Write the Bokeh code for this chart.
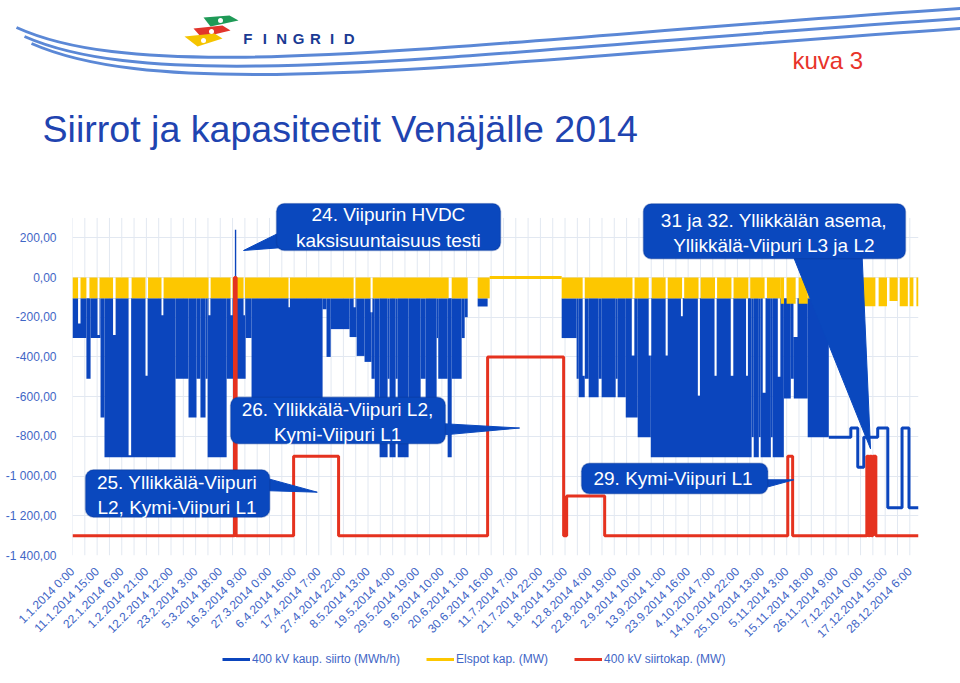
import math
from bokeh.plotting import figure
from bokeh.models import (Range1d, FixedTicker, BoxAnnotation, Label, Legend, LegendItem)
from bokeh.embed import file_html
from bokeh.resources import INLINE
from bokeh.core.properties import value

FONT = "Liberation Sans"
BLUE = "#0b45bd"
YELLOW = "#fdc700"
RED = "#e5321f"
TXT = "#3f66c6"
GRID = "#e2e8f1"
CALLOUT = "#0a48be"
CALLOUT_EDGE = "#0a3592"

# ---------------- data (x in days of 2014, y in MW) ----------------
x_tick_labels = [
    "1.1.2014 0:00", "11.1.2014 15:00", "22.1.2014 6:00", "1.2.2014 21:00",
    "12.2.2014 12:00", "23.2.2014 3:00", "5.3.2014 18:00", "16.3.2014 9:00",
    "27.3.2014 0:00", "6.4.2014 16:00", "17.4.2014 7:00", "27.4.2014 22:00",
    "8.5.2014 13:00", "19.5.2014 4:00", "29.5.2014 19:00", "9.6.2014 10:00",
    "20.6.2014 1:00", "30.6.2014 16:00", "11.7.2014 7:00", "21.7.2014 22:00",
    "1.8.2014 13:00", "12.8.2014 4:00", "22.8.2014 19:00", "2.9.2014 10:00",
    "13.9.2014 1:00", "23.9.2014 16:00", "4.10.2014 7:00", "14.10.2014 22:00",
    "25.10.2014 13:00", "5.11.2014 3:00", "15.11.2014 18:00", "26.11.2014 9:00",
    "7.12.2014 0:00", "17.12.2014 15:00", "28.12.2014 6:00",
]
tick_step_days = 10.625  # 255 hours
y_ticks = [200, 0, -200, -400, -600, -800, -1000, -1200, -1400]
y_tick_labels = ["200,00", "0,00", "-200,00", "-400,00", "-600,00", "-800,00",
                 "-1 000,00", "-1 200,00", "-1 400,00"]

# 400 kV commercial transfer (MWh/h): bands of hourly values
flow_top_mw = -105
blue_start = [0, 6.0, 7.8, 12.1, 13.8, 44.45, 50.06, 53.5, 55.2, 57.4, 58.3, 66.5, 74.7,
              77.25, 107.9, 109.6, 111.4, 119.55, 122.6, 126.0, 129.0, 130.4, 132.5,
              135.95, 136.8, 139.4, 140.3, 145.0, 150.2, 152.35, 157.1, 157.8, 161.85,
              163.6, 167.9, 169.2, 174.8, 211.05, 217.5, 218.4, 221.0, 222.7, 227.0,
              228.3, 234.35, 235.2, 238.7, 243.85, 249.5, 293.0, 293.9, 296.1, 296.9,
              301.3, 302.1, 306.9, 309.9, 311.2, 317.2]
blue_end = [6.0, 7.8, 12.1, 13.8, 44.45, 50.06, 53.5, 55.2, 57.4, 58.3, 66.5, 74.7, 77.25,
            107.9, 109.6, 111.4, 119.55, 122.6, 126.0, 129.0, 130.4, 132.5, 135.95,
            136.8, 139.4, 140.3, 145.0, 150.2, 152.35, 157.1, 157.8, 161.85, 163.6,
            167.9, 169.2, 170.5, 179.1, 217.5, 218.4, 221.0, 222.7, 227.0, 228.3,
            234.35, 235.2, 238.7, 243.85, 249.5, 293.0, 293.9, 296.1, 296.9, 301.3,
            302.1, 306.9, 309.9, 311.2, 317.2, 326.3]
blue_low = [-305, -510, -305, -705, -905, -510, -705, -510, -705, -510, -905, -510, -305,
            -705, -160, -400, -260, -300, -395, -425, -510, -705, -905,
            -510, -905, -510, -905, -705, -510, -705, -305, -510, -905,
            -510, -305, -200, -146, -305, -510, -603, -510, -603, -510,
            -603, -510, -603, -705, -804, -905, -804, -905, -804, -905,
            -804, -905, -609, -510, -609, -804]
# hours where the flow stayed small (white notches from the top)
gap_start = [2.4, 10.8, 17.5, 24.2, 31.5, 38.4, 58.7, 68.2, 73.8, 93.2, 121.3, 128.6,
             220.1, 241.3, 248.6, 255.9, 262.5, 269.8, 277.0, 284.0, 290.6, 297.8,
             304.3, 311.1]
gap_end = [3.45, 11.65, 18.6, 25.3, 32.4, 39.2, 59.5, 69.0, 74.4, 93.8, 122.1, 129.4,
           221.0, 242.4, 249.7, 256.8, 263.3, 270.7, 277.9, 285.1, 291.4, 299.0,
           305.4, 312.8]
gap_depth = [-232, -290, -290, -895, -495, -190, -190, -190, -190, -150, -150, -175,
             -495, -393, -393, -393, -195, -595, -495, -495, -495, -580,
             -500, -300]
# HVDC bidirectional test hour
hvdc_day = [70.35]
hvdc_mw = [240]
# December transfer (steady steps)
blue_dec_day = [326.3, 335.8, 338.8, 341.4, 347.4, 351.75, 357.9, 360.9, 365.0]
blue_dec_mw = [-804, -758, -955, -804, -758, -1160, -758, -1160, -1160]

# Elspot capacity (MW)
yel_start = [0, 3.45, 7.3, 11.65, 18.6, 25.5, 32.6, 39.3, 59.6, 69.05, 74.4, 93.8, 122.1,
             129.5, 163.6, 174.8, 180.0, 211.05, 221.0, 242.5, 249.9, 256.8, 263.9,
             271.0, 278.1, 285.2, 292.4, 299.6, 305.6, 308.1, 313.3, 317.2, 341.4,
             347.8, 352.5, 356.9, 361.2, 364.1]
yel_end = [2.4, 6.0, 10.8, 17.5, 24.2, 31.5, 38.4, 58.7, 68.2, 73.8, 93.2, 121.3, 128.6,
           162.3, 170.5, 180.0, 211.05, 220.1, 241.6, 248.6, 255.9, 263.0, 270.1,
           277.2, 284.3, 291.6, 298.6, 305.6, 307.0, 312.0, 317.2, 341.4, 346.4,
           351.4, 356.0, 360.4, 362.8, 365.0]
yel_low = [-105, -105, -105, -105, -105, -105, -105, -105, -105, -105, -105, -105, -105,
           -105, -105, -105, 0, -105, -105, -105, -105, -105, -105,
           -105, -105, -105, -105, -105, -132, -132, -132, -105, -145,
           -145, -118, -145, -145, -145]

# 400 kV transfer capacity (MW)
red_day = [0, 69.9, 70.6, 95.4, 114.8, 179.1, 211.9, 213.2, 229.6, 308.6, 310.7,
           342.7, 343.5, 343.9, 344.8, 345.3, 346.6, 365.0]
red_mw = [-1300, 0, -1300, -900, -1300, -400, -1300, -1100, -1300, -900, -1300,
          -900, -1300, -900, -1300, -900, -1300, -1300]

legend_labels = ["400 kV kaup. siirto (MWh/h)", "Elspot kap. (MW)", "400 kV siirtokap. (MW)"]

# callouts: text, box (left, right, top, bottom), text centre, tail polygon
callouts = [
    ("24. Viipurin HVDC\nkaksisuuntaisuus testi", (88.0, 184.7, 372.7, 136.0), (136.3, 252),
     ([89.5, 73.8, 91.0], [226.6, 136.0, 151.1])),
    ("31 ja 32. Yllikkälän asema,\nYllikkälä-Viipuri L3 ja L2", (246.3, 359.4, 372.0, 94.2), (302.6, 224),
     ([311.2, 344.3, 340.7], [100.0, -862.7, 100.0])),
    ("26. Yllikkälä-Viipuri L2,\nKymi-Viipuri L1", (68.2, 160.9, -602.8, -837.5), (114.4, -729),
     ([158.0, 192.9, 158.0], [-735.0, -758.0, -795.0])),
    ("25. Yllikkälä-Viipuri\nL2, Kymi-Viipuri L1", (5.6, 85.1, -968.5, -1207.0), (45.1, -1096),
     ([82.0, 105.6, 82.0], [-1005.7, -1081.2, -1072.8])),
    ("29. Kymi-Viipuri L1", (219.6, 300.0, -935.2, -1089.3), (259.1, -1014),
     ([297.0, 311.2, 297.0], [-1018.8, -1018.8, -1064.1])),
]

# ---------------- header (page pixel coordinates) ----------------
h = figure(width=960, height=200, x_range=Range1d(0, 960), y_range=Range1d(200, 0),
           output_backend="svg", toolbar_location=None, x_axis_type=None, y_axis_type=None,
           min_border=0)
h.grid.visible = False
h.outline_line_color = None

h.bezier(x0=[16, 24, 31], y0=[27, 36, 43], x1=[960, 960, 960], y1=[8, 18, 28],
         cx0=[150, 160, 170], cy0=[88, 96, 104], cx1=[450, 460, 470], cy1=[42, 52, 62],
         line_color="#5b88d6", line_width=3)
h.patches(xs=[[203, 229, 238, 210], [193, 222, 230, 201], [184, 214, 222, 197]],
          ys=[[17, 15, 20, 26], [28, 25, 30, 37], [36, 33, 38, 46]],
          fill_color=["#1f9a57", "#e2352c", "#f5c400"], line_color=None)
h.scatter(x=[220, 211, 203], y=[20, 31, 40], size=5, fill_color="white", line_color=None)
h.text(x=[247.4, 264.3, 281.1, 298.0, 314.9, 331.7, 348.6], y=[37.5] * 7, text=list("FINGRID"),
       text_font=value(FONT), text_font_style="bold", text_font_size="15px",
       text_color="#1a3a93", text_align="center", text_baseline="middle")
h.text(x=[792], y=[60], text=["kuva 3"], text_font=value(FONT), text_font_size="24px",
       text_color="#e8332a", text_align="left", text_baseline="alphabetic")
h.text(x=[42], y=[128.5], text=["Siirrot ja kapasiteetit Venäjälle 2014"],
       text_font=value(FONT), text_font_size="37.6px", text_color="#1f44b0",
       text_align="left", text_baseline="alphabetic")

# ---------------- chart ----------------
p = figure(width=960, height=450, x_range=Range1d(0, 365), y_range=Range1d(-1400, 377.7),
           output_backend="svg", toolbar_location=None,
           min_border_left=72, min_border_right=42, min_border_top=2, min_border_bottom=95)
p.outline_line_color = None
p.xgrid.visible = False
p.ygrid.grid_line_color = GRID
p.ygrid.grid_line_width = 1

x_ticks = [i * tick_step_days for i in range(len(x_tick_labels))]
p.xaxis.ticker = FixedTicker(ticks=x_ticks)
p.xaxis.major_label_overrides = {t: s for t, s in zip(x_ticks, x_tick_labels)}
p.xaxis.major_label_orientation = math.pi / 4
p.yaxis.ticker = FixedTicker(ticks=y_ticks)
p.yaxis.major_label_overrides = {t: s for t, s in zip(y_ticks, y_tick_labels)}
for ax in (p.xaxis, p.yaxis):
    ax.axis_line_color = None
    ax.major_tick_line_color = None
    ax.minor_tick_line_color = None
    ax.major_label_text_font = FONT
    ax.major_label_text_font_size = "12px"
    ax.major_label_text_color = TXT
p.yaxis.major_label_standoff = 10
p.xaxis.major_label_standoff = 8

vg = [i * tick_step_days / 2 for i in range(int(365 / (tick_step_days / 2)) + 1)]
p.segment(x0=vg, y0=-1400, x1=vg, y1=300, line_color=GRID, line_width=1)

p.quad(left=blue_start, right=blue_end, top=flow_top_mw, bottom=blue_low,
       fill_color=BLUE, line_color=None)
p.quad(left=gap_start, right=gap_end, top=flow_top_mw, bottom=gap_depth,
       fill_color="white", line_color=None)

ys = [(s, e, l) for s, e, l in zip(yel_start, yel_end, yel_low) if l < 0]
p.quad(left=[a for a, _, _ in ys], right=[b for _, b, _ in ys], top=0,
       bottom=[c for _, _, c in ys], fill_color=YELLOW, line_color=None)
yz = [(s, e) for s, e, l in zip(yel_start, yel_end, yel_low) if l == 0]
p.segment(x0=[a for a, _ in yz], y0=0, x1=[b for _, b in yz], y1=0,
          line_color=YELLOW, line_width=3)

p.vbar(x=hvdc_day, width=0.6, top=hvdc_mw, bottom=flow_top_mw, fill_color=BLUE, line_color=None)
p.step(blue_dec_day, blue_dec_mw, mode="after", line_color=BLUE, line_width=3)
p.step(red_day, red_mw, mode="after", line_color=RED, line_width=3)

p.patches(xs=[c[3][0] for c in callouts], ys=[c[3][1] for c in callouts],
          fill_color=CALLOUT, line_color=CALLOUT)
for text, (l, r, t, b), (tx, ty), _ in callouts:
    p.add_layout(BoxAnnotation(left=l, right=r, top=t, bottom=b, fill_color=CALLOUT,
                               fill_alpha=1, line_color=CALLOUT_EDGE, line_width=1.5,
                               border_radius=8))
    p.add_layout(Label(x=tx, y=ty, text=text, text_align="center", text_baseline="middle",
                       text_color="white", text_font=FONT, text_font_size="19px",
                       text_line_height=1.2))

# ---------------- legend strip ----------------
lg = figure(width=960, height=33, x_range=Range1d(0, 960), y_range=Range1d(0, 33),
            output_backend="svg", toolbar_location=None, x_axis_type=None, y_axis_type=None,
            min_border=0)
lg.grid.visible = False
lg.outline_line_color = None
# legend keys (placed outside the visible range)
lr_blue = lg.line([-30, -20], [5, 5], line_color=BLUE, line_width=3)
lr_yel = lg.line([-30, -20], [5, 5], line_color=YELLOW, line_width=3)
lr_red = lg.line([-30, -20], [5, 5], line_color=RED, line_width=3)
legend = Legend(items=[LegendItem(label=legend_labels[0], renderers=[lr_blue]),
                       LegendItem(label=legend_labels[1], renderers=[lr_yel]),
                       LegendItem(label=legend_labels[2], renderers=[lr_red])],
                location=(222, 17), orientation="horizontal", padding=0, margin=0,
                spacing=26, label_standoff=2, glyph_width=28, glyph_height=14,
                label_height=14, label_text_font=FONT, label_text_font_size="12px",
                label_text_color=TXT, border_line_color=None, background_fill_alpha=0)
lg.add_layout(legend)

open("out.html", "w").write(file_html([h, p, lg], INLINE))
